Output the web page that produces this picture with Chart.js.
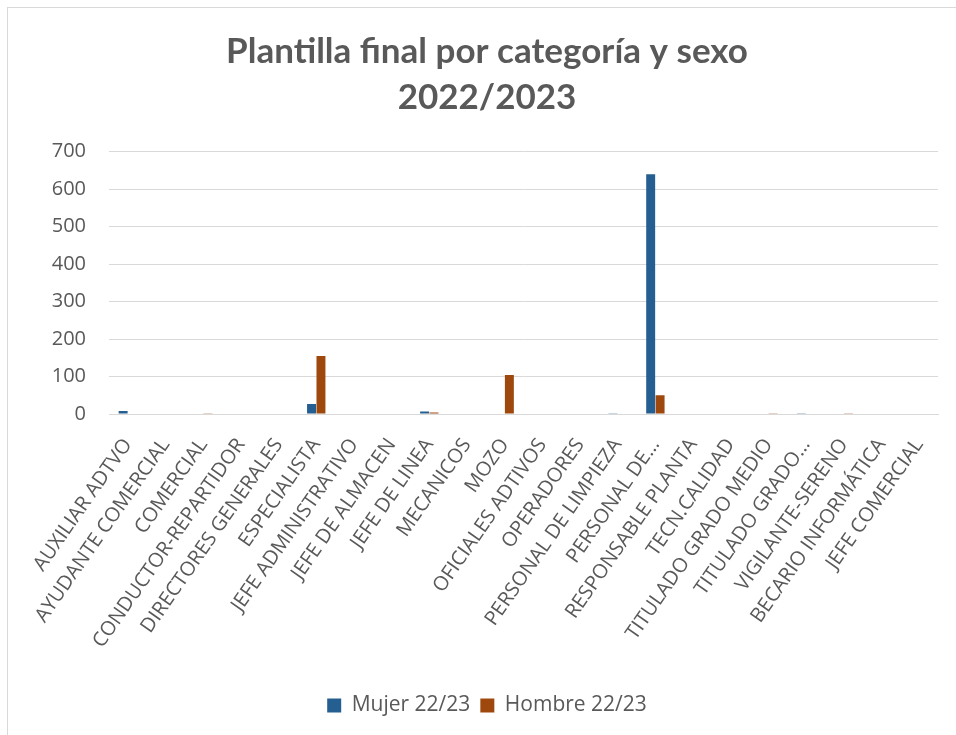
<!DOCTYPE html>
<html><head><meta charset="utf-8">
<script src="https://cdn.jsdelivr.net/npm/chart.js@4/dist/chart.umd.min.js"></script>
<style>
html,body{margin:0;padding:0;background:#fff;}
#frame{position:absolute;left:7px;top:7px;width:960px;height:740px;border:1px solid #d9d9d9;box-sizing:border-box;}
#wrap{position:absolute;left:0;top:0;width:956px;height:735px;}
</style></head><body>
<div id="frame"></div>
<div id="wrap"><canvas id="c" width="956" height="735"></canvas></div>
<script>
const categories = ["AUXILIAR ADTVO","AYUDANTE COMERCIAL","COMERCIAL","CONDUCTOR-REPARTIDOR","DIRECTORES GENERALES","ESPECIALISTA","JEFE ADMINISTRATIVO","JEFE DE ALMACEN","JEFE DE LINEA","MECANICOS","MOZO","OFICIALES ADTIVOS","OPERADORES","PERSONAL DE LIMPIEZA","PERSONAL DE…","RESPONSABLE PLANTA","TECN.CALIDAD","TITULADO GRADO MEDIO","TITULADO GRADO…","VIGILANTE-SERENO","BECARIO INFORMÁTICA","JEFE COMERCIAL"];
const mujer   = [8,0,0,0,0,27,0,0,7,0,0,0,0,2,640,0,0,0,1,0,0,0];
const hombre  = [0,0,2,0,0,155,0,0,4,0,104,0,0,0,50,0,0,2,0,1,0,0];
const yTicks = [0,100,200,300,400,500,600,700];
const titleLines = ["Plantilla final por categoría y sexo","2022/2023"];

new Chart(document.getElementById('c'), {
  type: 'bar',
  data: {
    labels: categories,
    datasets: [
      {label: 'Mujer 22/23', data: mujer, backgroundColor: '#255e91', categoryPercentage: 0.5, barPercentage: 0.95},
      {label: 'Hombre 22/23', data: hombre, backgroundColor: '#9e480e', categoryPercentage: 0.5, barPercentage: 0.95}
    ]
  },
  options: {
    responsive: false,
    animation: false,
    layout: {padding: {left: 36, right: 18, top: 20, bottom: 9}},
    plugins: {
      title: {display: true, text: titleLines, color: '#595959', font: {family: 'Lato', size: 35, weight: 'bold', lineHeight: 1.31}, padding: {top: 9, bottom: 31}},
      legend: {position: 'bottom', labels: {color: '#595959', font: {family: 'Open Sans', size: 21}, boxWidth: 14, boxHeight: 14, padding: 10}},
      tooltip: {enabled: false}
    },
    scales: {
      x: {
        afterFit: (s) => { s.height = 271; },
        grid: {display: false},
        border: {color: '#d9d9d9'},
        ticks: {color: '#595959', font: {family: 'Open Sans', size: 20}, maxRotation: 55, minRotation: 55, autoSkip: false, padding: 12}
      },
      y: {
        min: 0, max: 700,
        afterFit: (s) => { s.width = 73; },
        afterBuildTicks: (s) => { s.ticks = yTicks.map(v => ({value: v})); },
        grid: {color: '#d9d9d9', drawTicks: false},
        border: {display: false},
        ticks: {color: '#595959', font: {family: 'Open Sans', size: 20}, padding: 23}
      }
    }
  }
});
</script>
</body></html>
